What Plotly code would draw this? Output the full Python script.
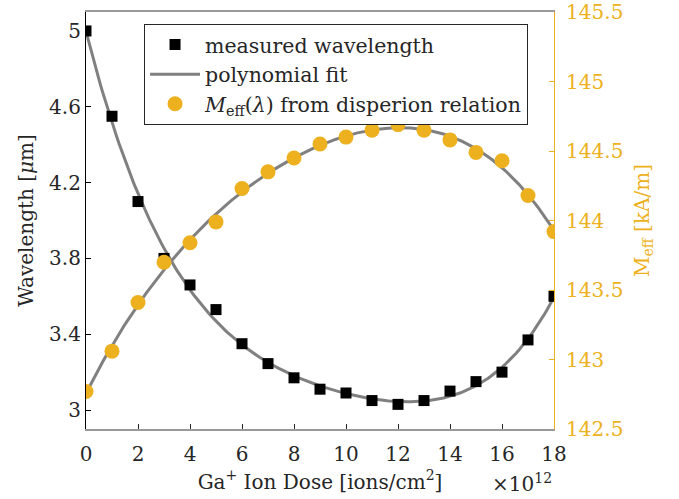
import numpy as np
import plotly.graph_objects as go

# ---- data ----
dose = [0, 1, 2, 3, 4, 5, 6, 7, 8, 9, 10, 11, 12, 13, 14, 15, 16, 17, 18]  # x 10^12 ions/cm^2
wavelength = [5.00, 4.55, 4.10, 3.80, 3.66, 3.53, 3.35, 3.245, 3.17, 3.11,
              3.09, 3.05, 3.03, 3.05, 3.10, 3.15, 3.20, 3.37, 3.60]  # um
meff = [142.77, 143.06, 143.41, 143.70, 143.84, 143.99, 144.23, 144.35, 144.45, 144.55,
        144.60, 144.65, 144.69, 144.65, 144.58, 144.49, 144.43, 144.18, 143.92]  # kA/m

x_ticks = [0, 2, 4, 6, 8, 10, 12, 14, 16, 18]
left_ticks = [3, 3.4, 3.8, 4.2, 4.6, 5]
right_ticks = [142.5, 143, 143.5, 144, 144.5, 145, 145.5]
right_tick_text = ["142.5", "143", "143.5", "144", "144.5", "145", "145.5"]

ORANGE = "#EDB120"
GRAY = "#808080"
DARK = "#262626"
FONT = "DejaVu Serif"

# polynomial fits of the measured series
xf = np.linspace(min(dose), max(dose), 200)
wl_fit = np.polyval(np.polyfit(dose, wavelength, 4), xf)
me_fit = np.polyval(np.polyfit(dose, meff, 4), xf)

fig = go.Figure()
fig.add_trace(go.Scatter(x=xf, y=wl_fit, mode="lines", line=dict(color=GRAY, width=3),
                         showlegend=False, yaxis="y"))
fig.add_trace(go.Scatter(x=xf, y=me_fit, mode="lines", line=dict(color=GRAY, width=3),
                         showlegend=False, yaxis="y2"))
fig.add_trace(go.Scatter(x=dose, y=wavelength, mode="markers", name="measured wavelength",
                         marker=dict(symbol="square", size=11, color="black"), yaxis="y"))
fig.add_trace(go.Scatter(x=[None], y=[None], mode="lines", name="polynomial fit",
                         line=dict(color=GRAY, width=3), yaxis="y"))
fig.add_trace(go.Scatter(x=dose, y=meff, mode="markers",
                         name="<i>M</i><sub>eff</sub>(<i>λ</i>) from disperion relation",
                         marker=dict(symbol="circle", size=15, color=ORANGE), yaxis="y2"))

TS = 20
fig.update_layout(
    width=679, height=499,
    margin=dict(l=86, r=125, t=12, b=70, autoexpand=False),
    paper_bgcolor="white", plot_bgcolor="white",
    font=dict(family=FONT, size=TS, color=DARK),
    xaxis=dict(range=[0, 18], tickvals=x_ticks, ticks="inside", ticklen=5, tickcolor=DARK,
               showline=True, linecolor="#999999", linewidth=1.5, mirror=True,
               showgrid=False, zeroline=False, automargin=False, ticklabelstandoff=6,
               ticklabeloverflow="allow",
               tickfont=dict(size=TS, color=DARK),
               title=dict(text="Ga<sup>+</sup> Ion Dose [ions/cm<sup>2</sup>]", standoff=10,
                          font=dict(size=TS, color=DARK))),
    yaxis=dict(range=[2.9, 5.1], tickvals=left_ticks, ticks="inside", ticklen=5, tickcolor="black",
               showline=True, linecolor="black", linewidth=1.2,
               showgrid=False, zeroline=False, automargin=False,
               ticklabeloverflow="allow",
               tickfont=dict(size=TS, color=DARK),
               title=dict(text="Wavelength [<i>μ</i>m]", standoff=10,
                          font=dict(size=TS, color=DARK))),
    yaxis2=dict(range=[142.5, 145.5], tickvals=right_ticks, ticktext=right_tick_text,
                overlaying="y", side="right", ticks="inside", ticklen=5, tickcolor=ORANGE,
                showline=True, linecolor=ORANGE, linewidth=1.2,
                showgrid=False, zeroline=False, automargin=False, ticklabelstandoff=7,
                ticklabeloverflow="allow",
                tickfont=dict(size=TS, color=ORANGE),
                title=dict(text="M<sub>eff</sub> [kA/m]", standoff=12,
                           font=dict(size=TS, color=ORANGE))),
    legend=dict(x=0.124, y=0.972, xanchor="left", yanchor="top",
                bordercolor=DARK, borderwidth=1, bgcolor="white",
                font=dict(size=20.5, color=DARK), tracegroupgap=0,
                itemwidth=50),
    annotations=[dict(text="×10<sup>12</sup>", xref="paper", yref="paper", x=1.0, y=-0.13,
                      xanchor="right", yanchor="middle", showarrow=False,
                      font=dict(size=TS, color=DARK))],
)

# remove the page's default 8 px body margin so the figure sits at the window's corner
fig.write_html("out.html", config={"displayModeBar": False},
               post_script="document.body.style.margin='0px';")
